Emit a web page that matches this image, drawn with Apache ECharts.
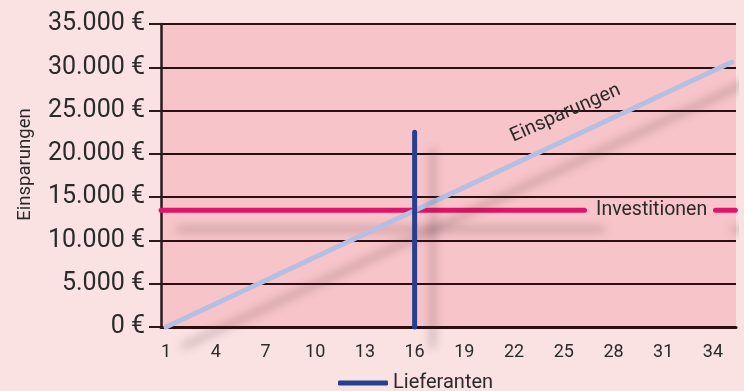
<!DOCTYPE html>
<html>
<head>
<meta charset="utf-8">
<script src="https://cdn.jsdelivr.net/npm/echarts@6/dist/echarts.min.js"></script>
<style>
html,body{margin:0;padding:0;background:#fae2e3;}
#c{width:744px;height:391px;}
</style>
</head>
<body>
<div id="c"></div>
<script>
// ---- data ----
const xTickValues = [1, 4, 7, 10, 13, 16, 19, 22, 25, 28, 31, 34];
const yTickValues = [0, 5000, 10000, 15000, 20000, 25000, 30000, 35000];
const einsparungenX = [1, 35.15];
const einsparungenY = [0, 30600];
// Investitionen: constant level, line interrupted by its label
const investitionenX = [0.7, 26.25, null, 34.15, 35.35];
const investitionenY = [13500, 13500, null, 13500, 13500];
const lieferantenX = [16, 16];
const lieferantenY = [0, 22500];
const einsparungenLabelAt = [25.1, 24700];
const investitionenLabelAt = [30.3, 13500];

function pairs(xs, ys){ return xs.map((x,i)=> x === null ? '-' : [x, ys[i]]); }
function fmtEuro(v){
  const s = String(Math.round(v)).replace(/\B(?=(\d{3})+(?!\d))/g, '.');
  return s + ' €';
}

const FONT = 'Roboto';
const TXT = '#2a2a2a';
const shadow = {shadowColor:'rgba(70,40,45,0.3)', shadowBlur:10, shadowOffsetX:18, shadowOffsetY:19};

const chart = echarts.init(document.getElementById('c'), null, {renderer:'canvas'});
chart.setOption({
  animation:false,
  backgroundColor:'#fae2e3',
  textStyle:{fontFamily:FONT},
  grid:{left:161, right:8, top:24, bottom:64, show:true, backgroundColor:'#f7c5c9', borderWidth:0},
  legend:{
    data:['Lieferanten'], left:333, top:368,
    icon:'roundRect', itemWidth:50, itemHeight:5, itemGap:10,
    textStyle:{fontFamily:FONT, fontSize:20, color:TXT}
  },
  xAxis:{
    type:'value', min:0.698, max:35.39,
    axisLine:{show:true, onZero:false, lineStyle:{color:'#2a0e10', width:3}},
    axisTick:{show:false},
    splitLine:{show:false},
    axisLabel:{customValues:xTickValues, fontFamily:FONT, fontSize:18, color:TXT, margin:16}
  },
  yAxis:{
    type:'value', min:0, max:35000, interval:5000,
    name:'Einsparungen', nameLocation:'middle', nameGap:126, nameRotate:90,
    nameTextStyle:{fontFamily:FONT, fontSize:18.5, color:TXT, padding:[0,0,0,22]},
    axisLine:{show:true, lineStyle:{color:'#2a1a1c', width:2.5}},
    axisTick:{show:true, inside:false, length:12, lineStyle:{color:'#2a1a1c', width:2}},
    splitLine:{show:true, lineStyle:{color:'#2a1012', width:2}},
    axisLabel:{formatter:v=>fmtEuro(v), fontFamily:FONT, fontSize:25, color:TXT, margin:16,
      customValues:yTickValues}
  },
  series:[
    {
      name:'Einsparungen', type:'line', data:pairs(einsparungenX, einsparungenY),
      symbol:'none', clip:false, z:3,
      lineStyle:Object.assign({color:'#b4bfe2', width:5, cap:'round'}, shadow)
    },
    {
      name:'Investitionen', type:'line', data:pairs(investitionenX, investitionenY),
      symbol:'none', clip:false, z:2, connectNulls:false,
      lineStyle:Object.assign({color:'#e0146a', width:5, cap:'round'}, shadow)
    },
    {
      name:'Lieferanten', type:'line', data:pairs(lieferantenX, lieferantenY),
      symbol:'none', clip:false, z:4, color:'#26408f',
      lineStyle:Object.assign({color:'#26408f', width:5, cap:'round'}, shadow)
    },
    {
      name:'lblInv', type:'scatter', symbolSize:0, z:5, silent:true,
      itemStyle:{opacity:1},
      data:[investitionenLabelAt],
      label:{show:true, position:'inside', formatter:'Investitionen', fontFamily:FONT, fontSize:19.5,
        color:TXT}
    },
    {
      name:'lblEins', type:'scatter', symbolSize:0, z:5, silent:true,
      itemStyle:{opacity:1},
      data:[einsparungenLabelAt],
      label:{show:true, position:'inside', formatter:'Einsparungen', rotate:24, fontFamily:FONT, fontSize:19.5,
        color:TXT}
    }
  ]
});
</script>
</body>
</html>
